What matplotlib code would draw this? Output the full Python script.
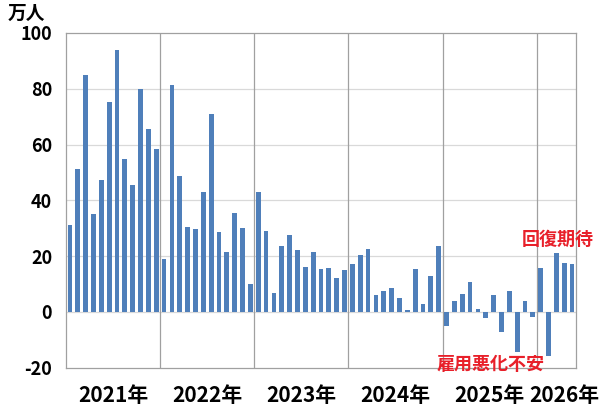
import matplotlib.pyplot as plt
import numpy as np

plt.rcParams['font.family'] = ['Noto Sans CJK JP', 'DejaVu Sans']

# 月次の増減（万人）、2021年1月〜2026年5月
v2021 = [31.2, 51.2, 84.9, 35.2, 47.4, 75.3, 94.0, 54.9, 45.4, 80.0, 65.7, 58.3]
v2022 = [18.9, 81.4, 48.8, 30.4, 29.7, 43.0, 71.0, 28.7, 21.5, 35.5, 29.9, 9.8]
v2023 = [43.0, 28.8, 6.6, 23.7, 27.7, 22.2, 16.0, 21.5, 15.4, 15.7, 12.2, 15.1]
v2024 = [17.1, 20.4, 22.4, 6.0, 7.6, 8.4, 5.0, 0.6, 15.2, 2.9, 13.0, 23.5]
v2025 = [-5.0, 4.0, 6.2, 10.5, 1.1, -2.3, 6.0, -7.1, 7.4, -14.3, 3.7, -2.0]
v2026 = [15.7, -15.8, 21.1, 17.5, 17.0]
years = ['2021年', '2022年', '2023年', '2024年', '2025年', '2026年']

values = v2021 + v2022 + v2023 + v2024 + v2025 + v2026
x = np.arange(len(values))

fig = plt.figure(figsize=(6.0, 4.08), dpi=100)
ax = fig.add_axes([66 / 600, 1 - 367.5 / 408, 510 / 600, 334.5 / 408])

ax.bar(x, values, width=0.6, color='#4f7fba', zorder=3)

ax.set_xlim(-0.5, len(values) - 0.5)
ax.set_ylim(-20, 100)
ax.set_yticks(range(-20, 101, 20))
ax.set_yticklabels([str(t) for t in range(-20, 101, 20)], fontsize=13, fontweight='bold')
ax.tick_params(axis='y', length=0, pad=10)
ax.set_xticks([])

for t in range(0, 100, 20):
    ax.axhline(t, color='#d9d9d9', lw=0.9, zorder=1)
for b in [11.5, 23.5, 35.5, 47.5, 59.5]:
    ax.axvline(b, color='#a0a0a0', lw=0.9, zorder=1)
for s in ax.spines.values():
    s.set_color('#a0a0a0')
    s.set_linewidth(0.9)

# 年ラベル
pos = [5.5, 17.5, 29.5, 41.5, 53.5, 63.0]
for p, y in zip(pos, years):
    ax.text(p, -29.9, y, ha='center', va='center', fontsize=15, fontweight='bold',
            clip_on=False)

fig.text(8 / 600, 1 - 13 / 408, '万人', ha='left', va='center', fontsize=13.5, fontweight='bold')

ax.text(62.2, 25.9, '回復期待', ha='center', va='center', fontsize=13,
        fontweight='bold', color='#e8202a')
ax.text(53.6, -19.0, '雇用悪化不安', ha='center', va='center', fontsize=13,
        fontweight='bold', color='#e8202a', zorder=5, clip_on=False)

plt.savefig('out.png', dpi=100)
